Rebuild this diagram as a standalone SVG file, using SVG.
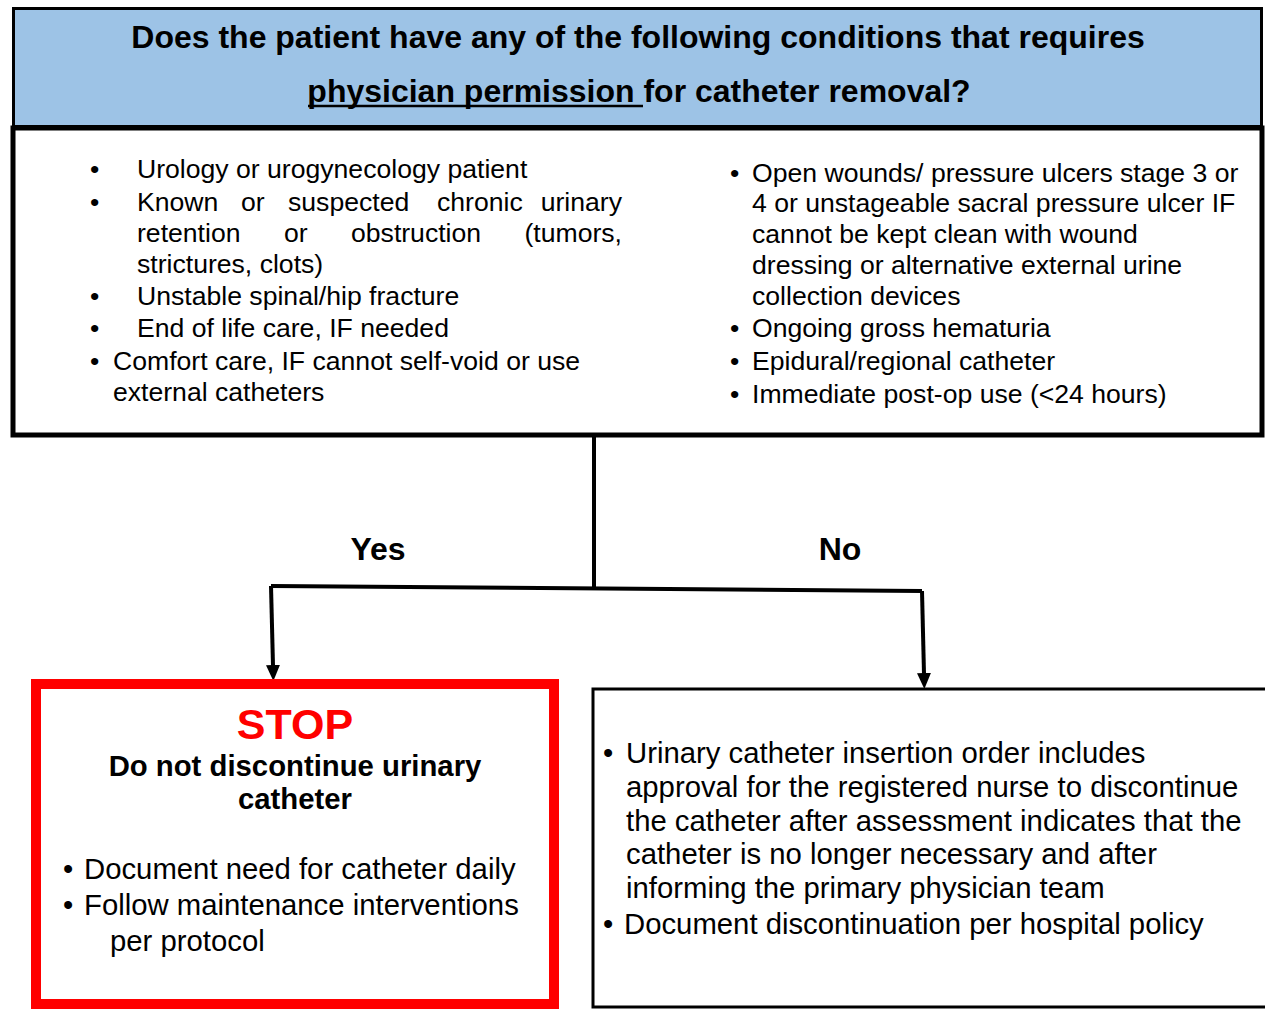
<svg xmlns="http://www.w3.org/2000/svg" width="1265" height="1009" viewBox="0 0 1265 1009">
<style>
text{font-family:"Liberation Sans",Arial,sans-serif;fill:#000}
.h{font-size:32px;font-weight:bold}
.l{font-size:26.6px}
.b{font-size:29.3px}
.lbl{font-size:32px;font-weight:bold}
.conn{fill:none;stroke:#000;stroke-width:4}
</style>
<defs>
<marker id="arr" markerUnits="userSpaceOnUse" markerWidth="16" markerHeight="14" refX="1" refY="7" orient="auto" viewBox="0 0 16 14">
<path d="M0 0 L16 7 L0 14 Z" fill="#000"/>
</marker>
</defs>
<rect width="1265" height="1009" fill="#fff"/>
<g id="question">
<rect x="13.5" y="8.5" width="1248" height="118" fill="#9DC3E6" stroke="#000" stroke-width="3"/>
<text class="h" x="638" y="48" text-anchor="middle">Does the patient have any of the following conditions that requires</text>
<text class="h" x="639" y="102" text-anchor="middle">physician permission for catheter removal?</text>
<line x1="308" y1="106" x2="643" y2="106" stroke="#000" stroke-width="2.5"/>
</g>
<g id="conditions">
<rect x="13" y="128" width="1249" height="307" fill="#fff" stroke="#000" stroke-width="5"/>
<g class="l">
<text x="90" y="178">•</text><text x="137" y="178">Urology or urogynecology patient</text>
<text x="90" y="211">•</text>
<text x="137" y="211">Known</text><text x="241" y="211">or</text><text x="288" y="211">suspected</text><text x="437" y="211">chronic</text><text x="622" y="211" text-anchor="end">urinary</text>
<text x="137" y="242">retention</text><text x="284" y="242">or</text><text x="351" y="242">obstruction</text><text x="622" y="242" text-anchor="end">(tumors,</text>
<text x="137" y="273">strictures, clots)</text>
<text x="90" y="305">•</text><text x="137" y="305">Unstable spinal/hip fracture</text>
<text x="90" y="337">•</text><text x="137" y="337">End of life care, IF needed</text>
<text x="90" y="370">•</text><text x="113" y="370">Comfort care, IF cannot self-void or use</text>
<text x="113" y="401">external catheters</text>
<text x="730" y="182">•</text><text x="752" y="182">Open wounds/ pressure ulcers stage 3 or</text>
<text x="752" y="212">4 or unstageable sacral pressure ulcer IF</text>
<text x="752" y="243">cannot be kept clean with wound</text>
<text x="752" y="274">dressing or alternative external urine</text>
<text x="752" y="305">collection devices</text>
<text x="730" y="337">•</text><text x="752" y="337">Ongoing gross hematuria</text>
<text x="730" y="370">•</text><text x="752" y="370">Epidural/regional catheter</text>
<text x="730" y="403">•</text><text x="752" y="403">Immediate post-op use (&lt;24 hours)</text>
</g>
</g>
<g id="connectors">
<path class="conn" d="M594 435 V587"/>
<path class="conn" d="M271 586 L922 591"/>
<path class="conn" d="M271 586 L273 666" marker-end="url(#arr)"/>
<path class="conn" d="M922 591 L924 674" marker-end="url(#arr)"/>
<text class="lbl" x="378" y="560" text-anchor="middle">Yes</text>
<text class="lbl" x="840" y="560" text-anchor="middle">No</text>
</g>
<g id="stop">
<rect x="36" y="684" width="518" height="320" fill="#fff" stroke="#FF0000" stroke-width="10"/>
<text x="295" y="739" text-anchor="middle" style="font-size:43px;font-weight:bold;fill:#FF0000">STOP</text>
<text x="295" y="776" text-anchor="middle" style="font-size:29.3px;font-weight:bold">Do not discontinue urinary</text>
<text x="295" y="809" text-anchor="middle" style="font-size:29.3px;font-weight:bold">catheter</text>
<g class="b">
<text x="63" y="879">•</text><text x="84" y="879">Document need for catheter daily</text>
<text x="63" y="915">•</text><text x="84" y="915">Follow maintenance interventions</text>
<text x="110" y="951">per protocol</text>
</g>
</g>
<g id="continue">
<rect x="593" y="689" width="680" height="318" fill="#fff" stroke="#000" stroke-width="3"/>
<g class="b">
<text x="603" y="763">•</text><text x="626" y="763">Urinary catheter insertion order includes</text>
<text x="626" y="797">approval for the registered nurse to discontinue</text>
<text x="626" y="831">the catheter after assessment indicates that the</text>
<text x="626" y="864">catheter is no longer necessary and after</text>
<text x="626" y="898">informing the primary physician team</text>
<text x="603" y="934">•</text><text x="624" y="934">Document discontinuation per hospital policy</text>
</g>
</g>
</svg>
